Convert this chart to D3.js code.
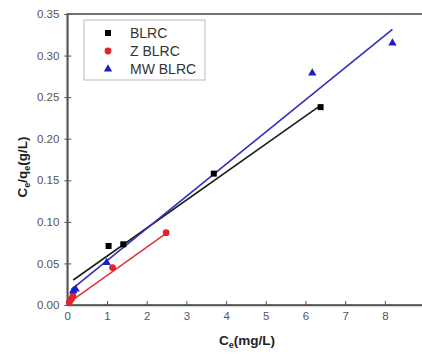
<!DOCTYPE html>
<html>
<head>
<meta charset="utf-8">
<script src="https://cdn.jsdelivr.net/npm/d3@7"></script>
<style>
  body { margin: 0; background: #fff; }
  svg { display: block; font-family: "Liberation Sans", Arial, sans-serif; }
</style>
</head>
<body>
<svg></svg>
<script>
const width = 422, height = 356;

// series names and colours
const seriesNames = ["BLRC", "Z BLRC", "MW BLRC"];
const seriesColors = ["#000000", "#e3222b", "#1c1cc8"];
const lineColors = ["#1a1f1a", "#e0373a", "#3030b8"];

// measured points (Ce, Ce/qe)
const blrcX = [1.04, 1.41, 3.69, 6.38];
const blrcY = [0.071, 0.073, 0.158, 0.238];
const zblrcX = [0.05, 0.10, 0.14, 1.14, 2.49];
const zblrcY = [0.003, 0.007, 0.011, 0.045, 0.087];
const mwX = [0.15, 0.21, 0.99, 6.17, 8.19];
const mwY = [0.017, 0.019, 0.051, 0.279, 0.315];

// linear fits: slope, intercept, x range
const fitSlope = [0.0337, 0.0340, 0.0387];
const fitIntercept = [0.025, 0.0015, 0.0145];
const fitStart = [0.15, 0.05, 0.10];
const fitEnd = [6.38, 2.49, 8.19];

const xTicks = [0, 1, 2, 3, 4, 5, 6, 7, 8, 9];
const yTicks = [0.00, 0.05, 0.10, 0.15, 0.20, 0.25, 0.30, 0.35];

const series = [
  {x: blrcX, y: blrcY, shape: "square"},
  {x: zblrcX, y: zblrcY, shape: "circle"},
  {x: mwX, y: mwY, shape: "triangle"}
];

const x = d3.scaleLinear().domain([0, 9]).range([67.3, 424.6]);
const y = d3.scaleLinear().domain([0, 0.35]).range([305, 14]);

const svg = d3.select("svg").attr("width", width).attr("height", height);

// frame
svg.append("rect")
    .attr("x", x(0)).attr("y", y(0.35))
    .attr("width", x(9) - x(0)).attr("height", y(0) - y(0.35))
    .attr("fill", "none").attr("stroke", "#666").attr("stroke-width", 1.8);

const xAxis = svg.append("g")
    .attr("transform", "translate(0," + y(0) + ")")
    .call(d3.axisBottom(x).tickValues(xTicks).tickSizeInner(-4).tickSizeOuter(0).tickPadding(7).tickFormat(d3.format("d")));
const yAxis = svg.append("g")
    .attr("transform", "translate(" + x(0) + ",0)")
    .call(d3.axisLeft(y).tickValues(yTicks).tickSizeInner(4).tickSizeOuter(0).tickPadding(4).tickFormat(d3.format(".2f")));

[xAxis, yAxis].forEach(a => {
  a.select(".domain").attr("stroke", "#555").attr("stroke-width", 1.5);
  a.selectAll(".tick line").attr("stroke", "#555");
  a.selectAll(".tick text").attr("fill", "#555").attr("font-size", 11.5).attr("font-family", "Liberation Sans, Arial, sans-serif");
});
yAxis.selectAll(".tick line").attr("x2", 4).attr("x1", -3);
xAxis.selectAll(".tick line").attr("y1", 0).attr("y2", -4);

// fit lines
series.forEach((s, i) => {
  svg.append("line")
      .attr("x1", x(fitStart[i])).attr("y1", y(fitIntercept[i] + fitSlope[i] * fitStart[i]))
      .attr("x2", x(fitEnd[i])).attr("y2", y(fitIntercept[i] + fitSlope[i] * fitEnd[i]))
      .attr("stroke", lineColors[i]).attr("stroke-width", 1.6);
});

function marker(sel, shape, color) {
  if (shape === "square") {
    sel.append("rect").attr("x", -3).attr("y", -3).attr("width", 6).attr("height", 6).attr("fill", color);
  } else if (shape === "circle") {
    sel.append("circle").attr("r", 3.4).attr("fill", color);
  } else {
    sel.append("path").attr("d", d3.symbol(d3.symbolTriangle, 30)()).attr("fill", color);
  }
}

series.forEach((s, i) => {
  s.x.forEach((v, j) => {
    const g = svg.append("g").attr("transform", "translate(" + x(v) + "," + y(s.y[j]) + ")");
    marker(g, s.shape, seriesColors[i]);
  });
});

// legend
const legend = svg.append("g");
legend.append("rect")
    .attr("x", 84).attr("y", 20).attr("width", 121).attr("height", 60)
    .attr("fill", "#fff").attr("stroke", "#bbb").attr("stroke-width", 1);
seriesNames.forEach((name, i) => {
  const row = legend.append("g").attr("transform", "translate(108," + (33 + i * 18) + ")");
  marker(row, series[i].shape, seriesColors[i]);
  row.append("text").attr("x", 22).attr("y", 5)
      .attr("font-size", 14).attr("fill", "#333").text(name);
});

// axis titles
const xt = svg.append("text")
    .attr("x", 247).attr("y", 345)
    .attr("text-anchor", "middle").attr("font-size", 13.5).attr("font-weight", "bold").attr("fill", "#222");
xt.append("tspan").text("C");
xt.append("tspan").attr("font-size", 9).attr("dy", 3).text("e");
xt.append("tspan").attr("dy", -3).text("(mg/L)");

const yt = svg.append("text")
    .attr("transform", "translate(27,167) rotate(-90)")
    .attr("text-anchor", "middle").attr("font-size", 13.5).attr("font-weight", "bold").attr("fill", "#222");
yt.append("tspan").text("C");
yt.append("tspan").attr("font-size", 9).attr("dy", 3).text("e");
yt.append("tspan").attr("dy", -3).text("/q");
yt.append("tspan").attr("font-size", 9).attr("dy", 3).text("e");
yt.append("tspan").attr("dy", -3).text("(g/L)");
</script>
</body>
</html>
